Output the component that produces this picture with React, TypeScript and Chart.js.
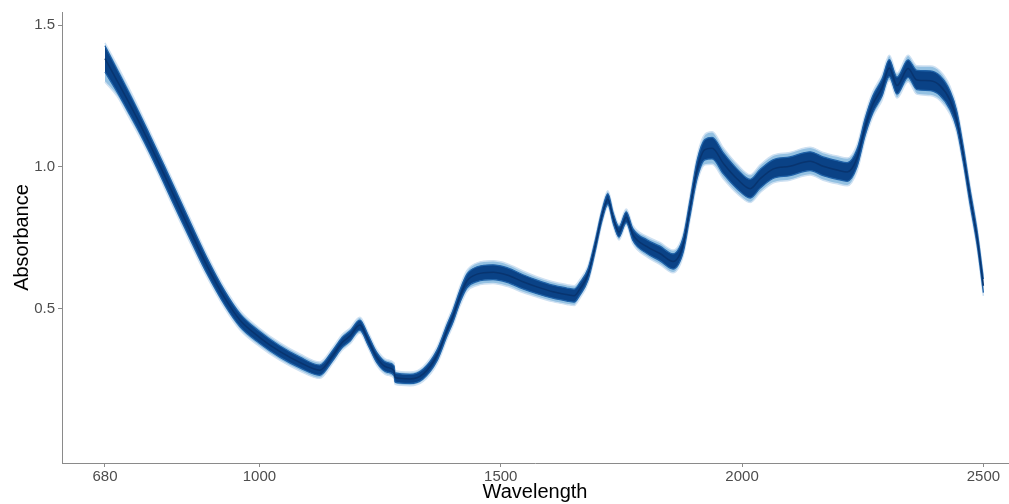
import React, { useEffect, useRef } from "react";
import { Chart, registerables } from "chart.js";

Chart.register(...registerables);

// Wavelength grid (nm)
const wavelengths = [
  680, 705, 728, 750, 773, 802, 831, 860, 891, 928, 960, 1000, 1042, 1084, 1125,
  1152, 1171, 1188, 1208, 1225, 1243, 1264, 1279, 1281, 1312, 1339, 1368, 1389,
  1401, 1416, 1430, 1451, 1484, 1513, 1546, 1575, 1608, 1637, 1652, 1664, 1681,
  1695, 1710, 1722, 1733, 1745, 1760, 1774, 1803, 1830, 1857, 1878, 1892, 1907,
  1923, 1938, 1961, 1990, 2017, 2037, 2064, 2099, 2141, 2168, 2197, 2218, 2238,
  2255, 2271, 2290, 2305, 2321, 2344, 2362, 2390, 2410, 2431, 2445, 2458, 2472,
  2487, 2500,
];

// Central (typical) spectrum
const meanAbsorbance = [
  1.382, 1.305, 1.232, 1.160, 1.080, 0.975, 0.868, 0.762, 0.652, 0.537, 0.458, 0.398, 0.348, 0.309, 0.282,
  0.334, 0.379, 0.403, 0.441, 0.389, 0.327, 0.292, 0.280, 0.256, 0.251, 0.268, 0.334, 0.424,
  0.472, 0.545, 0.597, 0.621, 0.628, 0.618, 0.594, 0.576, 0.559, 0.549, 0.545, 0.569, 0.621,
  0.715, 0.829, 0.886, 0.819, 0.770, 0.822, 0.760, 0.718, 0.694, 0.666, 0.725, 0.853, 0.992,
  1.061, 1.066, 1.013, 0.957, 0.923, 0.957, 0.992, 1.002, 1.020, 1.002, 0.989, 0.982, 1.030,
  1.141, 1.221, 1.280, 1.349, 1.287, 1.347, 1.307, 1.304, 1.287, 1.235, 1.165, 1.047, 0.898,
  0.749, 0.580,
];

// Highest (light) spectra envelope
const upperLight = [
  1.438, 1.360, 1.284, 1.208, 1.125, 1.020, 0.913, 0.805, 0.692, 0.573, 0.492, 0.430, 0.379, 0.339, 0.311,
  0.362, 0.407, 0.431, 0.469, 0.417, 0.355, 0.319, 0.307, 0.280, 0.275, 0.294, 0.364, 0.456,
  0.505, 0.580, 0.634, 0.661, 0.668, 0.658, 0.632, 0.612, 0.594, 0.584, 0.580, 0.602, 0.652,
  0.744, 0.857, 0.916, 0.847, 0.798, 0.851, 0.792, 0.754, 0.733, 0.706, 0.765, 0.895, 1.040,
  1.115, 1.124, 1.068, 1.009, 0.972, 1.006, 1.041, 1.051, 1.069, 1.051, 1.038, 1.031, 1.077,
  1.186, 1.266, 1.325, 1.394, 1.331, 1.394, 1.357, 1.356, 1.339, 1.284, 1.211, 1.089, 0.938,
  0.787, 0.616,
];

// Highest dark spectra
const upperDark = [
  1.428, 1.345, 1.269, 1.194, 1.112, 1.007, 0.900, 0.792, 0.680, 0.562, 0.481, 0.419, 0.368, 0.328, 0.300,
  0.352, 0.397, 0.421, 0.459, 0.407, 0.345, 0.309, 0.297, 0.272, 0.267, 0.285, 0.353, 0.444,
  0.493, 0.567, 0.621, 0.647, 0.654, 0.644, 0.619, 0.600, 0.582, 0.572, 0.568, 0.591, 0.641,
  0.734, 0.847, 0.905, 0.837, 0.788, 0.841, 0.781, 0.742, 0.720, 0.693, 0.752, 0.881, 1.024,
  1.097, 1.104, 1.050, 0.992, 0.956, 0.990, 1.025, 1.035, 1.053, 1.035, 1.022, 1.015, 1.061,
  1.171, 1.251, 1.310, 1.379, 1.317, 1.378, 1.341, 1.339, 1.322, 1.268, 1.196, 1.075, 0.924,
  0.774, 0.604,
];

// Lowest dark spectra
const lowerDark = [
  1.335, 1.265, 1.195, 1.126, 1.048, 0.943, 0.836, 0.732, 0.624, 0.512, 0.435, 0.377, 0.328, 0.290, 0.264,
  0.316, 0.361, 0.385, 0.423, 0.371, 0.309, 0.275, 0.263, 0.240, 0.235, 0.251, 0.315, 0.404,
  0.451, 0.523, 0.573, 0.595, 0.602, 0.592, 0.569, 0.552, 0.536, 0.526, 0.522, 0.547, 0.601,
  0.696, 0.811, 0.868, 0.801, 0.752, 0.803, 0.739, 0.694, 0.668, 0.639, 0.698, 0.825, 0.960,
  1.025, 1.028, 0.976, 0.922, 0.890, 0.924, 0.959, 0.969, 0.987, 0.969, 0.956, 0.949, 0.999,
  1.111, 1.191, 1.250, 1.319, 1.257, 1.316, 1.273, 1.269, 1.252, 1.202, 1.134, 1.019, 0.872,
  0.724, 0.556,
];

// Lowest (light) spectra envelope
const lowerLight = [
  1.300, 1.250, 1.180, 1.112, 1.035, 0.930, 0.823, 0.719, 0.612, 0.501, 0.424, 0.366, 0.317, 0.279, 0.253,
  0.306, 0.351, 0.375, 0.413, 0.361, 0.299, 0.265, 0.253, 0.232, 0.227, 0.242, 0.304, 0.392,
  0.439, 0.510, 0.560, 0.581, 0.588, 0.578, 0.556, 0.540, 0.524, 0.514, 0.510, 0.536, 0.590,
  0.686, 0.801, 0.858, 0.791, 0.742, 0.793, 0.728, 0.682, 0.655, 0.626, 0.685, 0.811, 0.944,
  1.007, 1.009, 0.958, 0.905, 0.874, 0.908, 0.943, 0.953, 0.971, 0.953, 0.940, 0.933, 0.983,
  1.096, 1.176, 1.235, 1.305, 1.243, 1.301, 1.257, 1.252, 1.235, 1.186, 1.119, 1.005, 0.858,
  0.711, 0.544,
];

const xTicks = [680, 1000, 1500, 2000, 2500];
const yTicks = [0.5, 1.0, 1.5];
const xRange = [591, 2551];
const yRange = [-0.046, 1.547];

const FONT = "'Liberation Sans', Arial, Helvetica, sans-serif";

export default function App() {
  const ref = useRef<HTMLCanvasElement | null>(null);

  useEffect(() => {
    if (!ref.current) return;
    const pts = (arr: number[]) => wavelengths.map((w, i) => ({ x: w, y: arr[i] }));
    const lineBase = {
      pointRadius: 0,
      pointHoverRadius: 0,
      cubicInterpolationMode: "monotone" as const,
    };
    const chart = new Chart(ref.current, {
      type: "line",
      data: {
        datasets: [
          { ...lineBase, data: pts(upperLight), borderColor: "#cfe1f2", borderWidth: 1.5, fill: false, order: 3 },
          { ...lineBase, data: pts(lowerLight), borderColor: "#cfe1f2", borderWidth: 1.5, backgroundColor: "#94c1e2", fill: "-1", order: 3 },
          { ...lineBase, data: pts(upperDark), borderColor: "#1f62a8", borderWidth: 1.3, fill: false, order: 2 },
          { ...lineBase, data: pts(lowerDark), borderColor: "#1f62a8", borderWidth: 1.3, backgroundColor: "#0a4286", fill: "-1", order: 2 },
          { ...lineBase, data: pts(meanAbsorbance), borderColor: "#08346f", borderWidth: 1.5, fill: false, order: 1 },
        ],
      },
      options: {
        animation: false,
        responsive: false,
        maintainAspectRatio: false,
        events: [],
        layout: { padding: { top: 3, right: 1, left: 0, bottom: 0 } },
        plugins: { legend: { display: false }, tooltip: { enabled: false } },
        scales: {
          x: {
            type: "linear",
            min: xRange[0],
            max: xRange[1],
            afterBuildTicks: (s: any) => {
              s.ticks = xTicks.map((v) => ({ value: v }));
            },
            afterFit: (s: any) => {
              s.height = 41;
            },
            grid: { display: true, drawOnChartArea: false, drawTicks: true, tickLength: 4, color: "#8a8a8a" },
            border: { display: true, color: "#8a8a8a", width: 1 },
            ticks: {
              color: "#4d4d4d",
              font: { size: 15, family: FONT },
              padding: 1,
              maxRotation: 0,
              autoSkip: false,
              callback: (v: any) => String(v),
            },
            title: {
              display: true,
              text: "Wavelength",
              color: "#000000",
              font: { size: 20, family: FONT },
              padding: { top: 0, bottom: 0 },
            },
          },
          y: {
            type: "linear",
            min: yRange[0],
            max: yRange[1],
            afterBuildTicks: (s: any) => {
              s.ticks = yTicks.map((v) => ({ value: v }));
            },
            afterFit: (s: any) => {
              s.width = 62;
            },
            grid: { display: true, drawOnChartArea: false, drawTicks: true, tickLength: 4, color: "#8a8a8a" },
            border: { display: true, color: "#8a8a8a", width: 1 },
            ticks: {
              color: "#4d4d4d",
              font: { size: 15, family: FONT },
              padding: 3,
              autoSkip: false,
              callback: (v: any) => Number(v).toFixed(1),
            },
            title: {
              display: true,
              text: "Absorbance",
              color: "#000000",
              font: { size: 20, family: FONT },
              padding: { top: 10, bottom: 0 },
            },
          },
        },
      },
    });
    return () => chart.destroy();
  }, []);

  return (
    <div style={{ position: "fixed", left: 0, top: 0, width: 1009, height: 504, background: "#ffffff" }}>
      <canvas ref={ref} width={1009} height={504} style={{ display: "block", width: 1009, height: 504 }} />
    </div>
  );
}
